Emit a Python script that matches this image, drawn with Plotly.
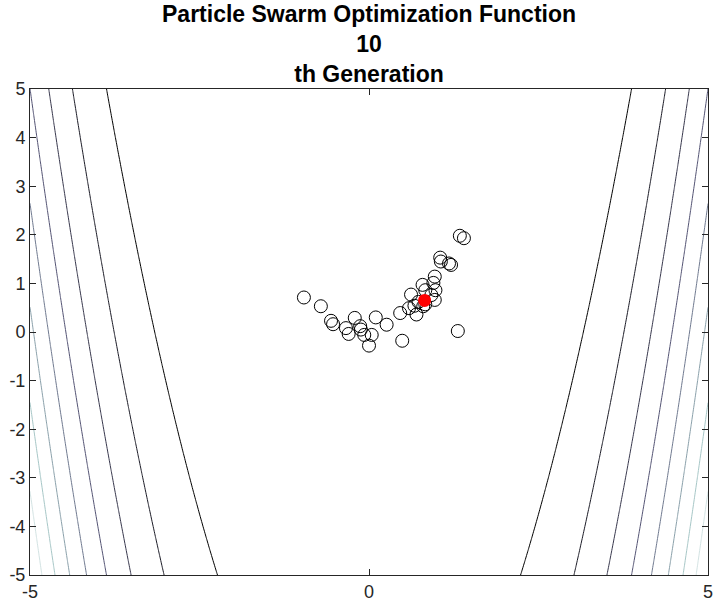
import numpy as np
import plotly.graph_objects as go

# Rosenbrock surface on the search box, contour levels as in the figure
x_range = [-5, 5]
y_range = [-5, 5]
rb_a = 1
rb_b = 100
levels_start, levels_end, levels_step = 10000, 90000, 10000

# particle positions at generation 10
px = [-0.96, -0.71, -0.56, -0.53, -0.34, -0.30, -0.21, -0.13, -0.12, -0.07,
      0.04, 0.00, 0.10, 0.26, 0.46, 0.49, 0.59, 0.67, 0.70, 0.62,
      0.79, 0.83, 0.95, 0.97, 0.98, 0.97, 0.73, 0.83, 0.92, 0.80,
      1.05, 1.06, 1.18, 1.21, 1.34, 1.40, 1.31]
py = [0.71, 0.53, 0.23, 0.16, 0.08, -0.04, 0.29, 0.12, 0.05, -0.06,
      -0.06, -0.28, 0.30, 0.15, 0.39, -0.18, 0.49, 0.54, 0.36, 0.77,
      0.97, 0.86, 1.01, 1.14, 0.86, 0.66, 0.62, 0.57, 0.76, 0.53,
      1.53, 1.45, 1.41, 1.38, 1.98, 1.93, 0.02]

# best particle
best_x = [0.82]
best_y = [0.65]

generation = 10
x_ticks = [-5, 0, 5]
y_ticks = [-5, -4, -3, -2, -1, 0, 1, 2, 3, 4, 5]

gx = np.linspace(x_range[0], x_range[1], 201)
gy = np.linspace(y_range[0], y_range[1], 201)
X, Y = np.meshgrid(gx, gy)
Z = (rb_a - X) ** 2 + rb_b * (Y - X ** 2) ** 2

# MATLAB "bone" colormap
bone = [[0.0, "rgb(0,0,0)"], [0.375, "rgb(84,84,116)"],
        [0.75, "rgb(167,199,199)"], [1.0, "rgb(255,255,255)"]]

fig = go.Figure()

fig.add_trace(go.Contour(x=gx, y=gy, z=Z, colorscale=bone, showscale=False,
                         zauto=False, zmin=0, zmax=float(Z.max()),
                         contours=dict(coloring="lines", start=levels_start,
                                       end=levels_end, size=levels_step),
                         line=dict(width=1), hoverinfo="skip"))

fig.add_trace(go.Scatter(x=px, y=py, mode="markers",
                         marker=dict(symbol="circle-open", size=13,
                                     color="black", line=dict(width=1)),
                         showlegend=False))

fig.add_trace(go.Scatter(x=best_x, y=best_y, mode="markers",
                         marker=dict(symbol="circle", size=13, color="red",
                                     line=dict(width=0)),
                         showlegend=False))

axis_style = dict(showline=True, mirror="ticks", ticks="inside", ticklen=6,
                  linecolor="#262626", tickcolor="#262626", linewidth=1,
                  showgrid=False, zeroline=False, automargin=False,
                  tickfont=dict(family="Arial", size=18, color="#262626"))

fig.update_xaxes(range=x_range, tickvals=x_ticks,
                 ticktext=[str(t) for t in x_ticks], **axis_style)
fig.update_yaxes(range=y_range, tickvals=y_ticks,
                 ticktext=[str(t) for t in y_ticks], **axis_style)

fig.update_layout(
    width=716, height=610,
    margin=dict(l=30, r=8, t=89, b=35),
    paper_bgcolor="white", plot_bgcolor="white",
    showlegend=False,
    annotations=[dict(
        text=f"<b>Particle Swarm Optimization Function<br>{generation}<br>th Generation</b>",
        x=0.5, xref="paper", y=1.186, yref="paper", yanchor="top",
        showarrow=False, font=dict(family="Arial", size=23, color="black"))],
)

# drop the default page margin so the figure fills the window
fig.write_html("out.html", config={"displayModeBar": False},
               post_script="document.body.style.margin='0';")
